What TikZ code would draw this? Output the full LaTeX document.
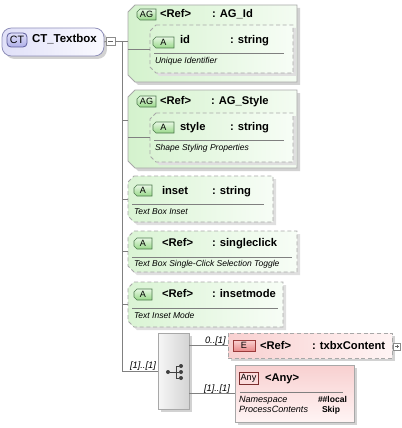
\documentclass[tikz,border=0pt]{standalone}
\usepackage{fontspec}
\setmainfont{Liberation Sans}
\usetikzlibrary{calc,shadows}
\definecolor{gL}{HTML}{D4F2CD}
\definecolor{gR}{HTML}{F4FCF2}
\definecolor{giL}{HTML}{DAF4D4}
\definecolor{giR}{HTML}{F7FDF6}
\definecolor{bd}{HTML}{A8A8A8}
\definecolor{shc}{HTML}{D2D2D2}
\definecolor{bgT}{HTML}{E8F8E4}
\definecolor{bgB}{HTML}{98D889}
\definecolor{bgD}{HTML}{4E7A4E}
\definecolor{pL}{HTML}{F8D0D0}
\definecolor{pR}{HTML}{FFF4F4}
\definecolor{eT}{HTML}{FBD2D2}
\definecolor{eB}{HTML}{E88A8A}
\definecolor{eD}{HTML}{9A3A3A}
\definecolor{ctL}{HTML}{E0E0F8}
\definecolor{ctR}{HTML}{FAFAFF}
\definecolor{ctD}{HTML}{9090BA}
\definecolor{ctbT}{HTML}{E0E0FA}
\definecolor{ctbB}{HTML}{B0B0E8}
\definecolor{ctbD}{HTML}{5C5C9A}
\definecolor{ln}{HTML}{808080}
\definecolor{sqL}{HTML}{F6F6F6}
\definecolor{sqR}{HTML}{D4D4D4}

\newcommand\nmf{\fontsize{8.4}{10}\selectfont\bfseries}
\newcommand\dsf{\fontsize{6.4}{7.5}\selectfont\itshape}
\newcommand\bdf{\fontsize{6.8}{8}\selectfont}
\newcommand\lbf{\fontsize{7}{8}\selectfont\itshape}

% chamfered box: name, x1, y1, x2, y2, chamfer, style, shadow, text
\newcommand\chbox[9]{%
  \fill[#8] (#2+#6+3,#3+3) -- (#4+3,#3+3) -- (#4+3,#5+3) -- (#2+#6+3,#5+3) -- (#2+3,#5-#6+3) -- (#2+3,#3+#6+3) -- cycle;
  \path[#7] (#2+#6,#3) -- (#4,#3) -- (#4,#5) -- (#2+#6,#5) -- (#2,#5-#6) -- (#2,#3+#6) -- cycle;
  \node[anchor=north west, inner sep=0pt, outer sep=0pt,
        minimum width={(#4-#2)*0.75pt}, minimum height={(#5-#3)*0.75pt}] (#1) at (#2,#3) {#9};
}

\begin{document}
\begin{tikzpicture}[x=0.75pt,y=-0.75pt,
  conn/.style={draw=ln, line width=0.6pt},
  sz/.style 2 args={minimum width=#1*0.75pt, minimum height=#2*0.75pt, inner sep=0pt, outer sep=0pt},
  gouter/.style={left color=gL, right color=gR, draw=bd, line width=0.6pt},
  ginner/.style={left color=giL, right color=giR, draw=bd, dash pattern=on 3pt off 2pt, line width=0.6pt},
  badge/.style={top color=bgT, bottom color=bgB, draw=bgD, line width=0.5pt},
  sepl/.style={draw=black!50, line width=0.5pt},
  txt/.style={anchor=base west, inner sep=0pt, outer sep=0pt},
  shd/.style={general shadow={fill=shc, shadow xshift=2.2pt, shadow yshift=-2.2pt}},
  icon/.style={sz={8}{8}, draw=black!45, fill=white, line width=0.5pt},
  dot/.style={circle, fill=black!75, inner sep=0pt, minimum size=3pt}]
\useasboundingbox (0,0) rectangle (401,428);

% ---------- root ----------
\node[sz={102}{28}, rounded corners=7pt, left color=ctL, right color=ctR, draw=ctD, line width=0.6pt, shd] (ct) at (53,42) {};
\node[sz={20}{14}, rounded corners=3pt, top color=ctbT, bottom color=ctbB, draw=ctbD, line width=0.6pt] (ctb) at (17,40) {\fontsize{8}{9}\selectfont CT};
\node[txt] (ctt) at (32,43) {\fontsize{8.6}{10}\selectfont\bfseries CT\_Textbox};
\node[icon, sz={9}{8}, draw=black!45] (ctm) at (110.5,41.5) {};
\draw[black!60, line width=0.5pt] ([xshift=1.5pt]ctm.west) -- ([xshift=-1.5pt]ctm.east);

% ---------- AG_Id ----------
\chbox{agid}{128}{5}{297}{82}{7}{gouter}{shc}{}
\chbox{agidb}{137}{9}{156}{20}{3}{badge}{opacity=0}{\bdf AG}
\node[txt] (agidr) at (160,18) {\nmf <Ref>};
\node[txt] (agidn) at (212,18) {\nmf : AG\_Id};
\chbox{idbox}{150}{25}{293}{73}{6}{ginner}{shc!70}{}
\chbox{idb}{153}{37}{174}{48}{3}{badge}{opacity=0}{\bdf A}
\node[txt] (idn) at (180,44) {\nmf id};
\node[txt] (idt) at (230,44) {\nmf : string};
\draw[sepl] (154,53) -- (284,53);
\node[txt] (idd) at (155,64) {\dsf Unique Identifier};

% ---------- AG_Style ----------
\chbox{agst}{128}{90}{297}{168}{7}{gouter}{shc}{}
\chbox{agstb}{137}{96}{156}{107}{3}{badge}{opacity=0}{\bdf AG}
\node[txt] (agstr) at (160,104) {\nmf <Ref>};
\node[txt] (agstn) at (211,104) {\nmf : AG\_Style};
\chbox{stbox}{150}{113}{293}{162}{6}{ginner}{shc!70}{}
\chbox{stb}{153}{122}{174}{133}{3}{badge}{opacity=0}{\bdf A}
\node[txt] (stn) at (180,130) {\nmf style};
\node[txt] (stt) at (230,130) {\nmf : string};
\draw[sepl] (154,140) -- (284,140);
\node[txt] (std) at (155,150) {\dsf Shape Styling Properties};

% ---------- inset ----------
\chbox{inset}{128}{176}{273}{222}{6}{ginner}{shc!70}{}
\chbox{insetb}{134}{185}{152}{196}{3}{badge}{opacity=0}{\bdf A}
\node[txt] (insetn) at (162,194) {\nmf inset};
\node[txt] (insett) at (212,194) {\nmf : string};
\draw[sepl] (132,204) -- (264,204);
\node[txt] (insetd) at (134,214) {\dsf Text Box Inset};

% ---------- singleclick ----------
\chbox{sc}{128}{231}{297}{272}{6}{ginner}{shc!70}{}
\chbox{scb}{134}{238}{152}{249}{3}{badge}{opacity=0}{\bdf A}
\node[txt] (scr) at (162,246) {\nmf <Ref>};
\node[txt] (scn) at (212,246) {\nmf : singleclick};
\draw[sepl] (132,257) -- (292,257);
\node[txt] (scd) at (134,266) {\dsf Text Box Single-Click Selection Toggle};

% ---------- insetmode ----------
\chbox{im}{128}{282}{283}{327}{6}{ginner}{shc!70}{}
\chbox{imb}{134}{289}{152}{300}{3}{badge}{opacity=0}{\bdf A}
\node[txt] (imr) at (162,297) {\nmf <Ref>};
\node[txt] (imn) at (212,297) {\nmf : insetmode};
\draw[sepl] (132,308) -- (278,308);
\node[txt] (imd) at (134,318) {\dsf Text Inset Mode};

% ---------- sequence ----------
\node[sz={31}{76}, left color=sqL, right color=sqR, draw=bd, line width=0.6pt, shd] (seq) at (173.5,371) {};
\node[dot] (d0) at (168,372) {};
\node[dot] (d1) at (181,366) {};
\node[dot] (d2) at (181,372) {};
\node[dot] (d3) at (181,378) {};
\coordinate (sj) at (176,372);
\draw[black!75, line width=0.7pt] (d0) -- (sj) (sj |- d1) -- (sj |- d3) (sj |- d1) -- (d1) (sj |- d2) -- (d2) (sj |- d3) -- (d3);

% ---------- txbxContent ----------
\node[sz={164}{25}, left color=pL, right color=pR, draw=bd, dash pattern=on 3pt off 2pt, line width=0.6pt, shd] (txbx) at (310,345.5) {};
\node[sz={22}{11}, top color=eT, bottom color=eB, draw=eD, line width=0.6pt] (eb) at (244,345.5) {\bdf E};
\node[txt] (txr) at (260,349) {\nmf <Ref>};
\node[txt] (txn) at (312,349) {\nmf : txbxContent};
\node[icon, sz={7}{7}] (txp) at (397,346.5) {};
\draw[black!60, line width=0.5pt] ([xshift=1.2pt]txp.west) -- ([xshift=-1.2pt]txp.east) ([yshift=-1.2pt]txp.north) -- ([yshift=1.2pt]txp.south);

% ---------- any ----------
\node[sz={119}{57}, top color=pL, bottom color=pR, draw=bd, line width=0.6pt, shd] (any) at (294.5,393.5) {};
\node[sz={19}{12}, fill=eT!80, draw=eD!80!black, line width=0.6pt] (anyb) at (248.5,378) {\bdf Any};
\node[txt] (anyn) at (265,381) {\nmf <Any>};
\draw[sepl] (240,392) -- (343,392);
\node[txt] (ns) at (239,402) {\fontsize{6.8}{8}\selectfont\itshape Namespace};
\node[txt] (pc) at (239,412) {\fontsize{6.8}{8}\selectfont\itshape ProcessContents};
\node[txt] (nsv) at (318,402) {\fontsize{6.4}{8}\selectfont\bfseries \#\#local};
\node[txt] (pcv) at (322,412) {\fontsize{6.4}{8}\selectfont\bfseries Skip};

% ---------- connectors ----------
\coordinate (tr1) at (122,42);
\coordinate (tr2) at (tr1 |- seq.west);
\coordinate (asy) at (122,120);
\draw[conn] (ct.east) -- (ctm.west);
\draw[conn] (ctm.east) -- (ctm.east -| agid.west);
\draw[conn] (tr1) -- (tr2);
\draw[conn] (agid.west |- idbox.west) -- (idbox.west);
\draw[conn] (asy) -- (asy -| agst.west);
\draw[conn] (agst.west |- stbox.west) -- (stbox.west);
\draw[conn] (tr1 |- inset.west) -- (inset.west);
\draw[conn] (tr1 |- sc.west) -- (sc.west);
\draw[conn] (tr1 |- im.west) -- (im.west);
\draw[conn] (tr2) -- (seq.west);
\draw[conn] (seq.east |- txbx.west) -- (txbx.west);
\draw[conn] (seq.east |- any.west) -- (any.west);

% ---------- labels ----------
\node[txt] (l0) at (130,368) {\lbf [1]..[1]};
\node[txt] (l1) at (205,343) {\lbf 0..[1]};
\node[txt] (l2) at (204,391) {\lbf [1]..[1]};
\end{tikzpicture}
\end{document}
